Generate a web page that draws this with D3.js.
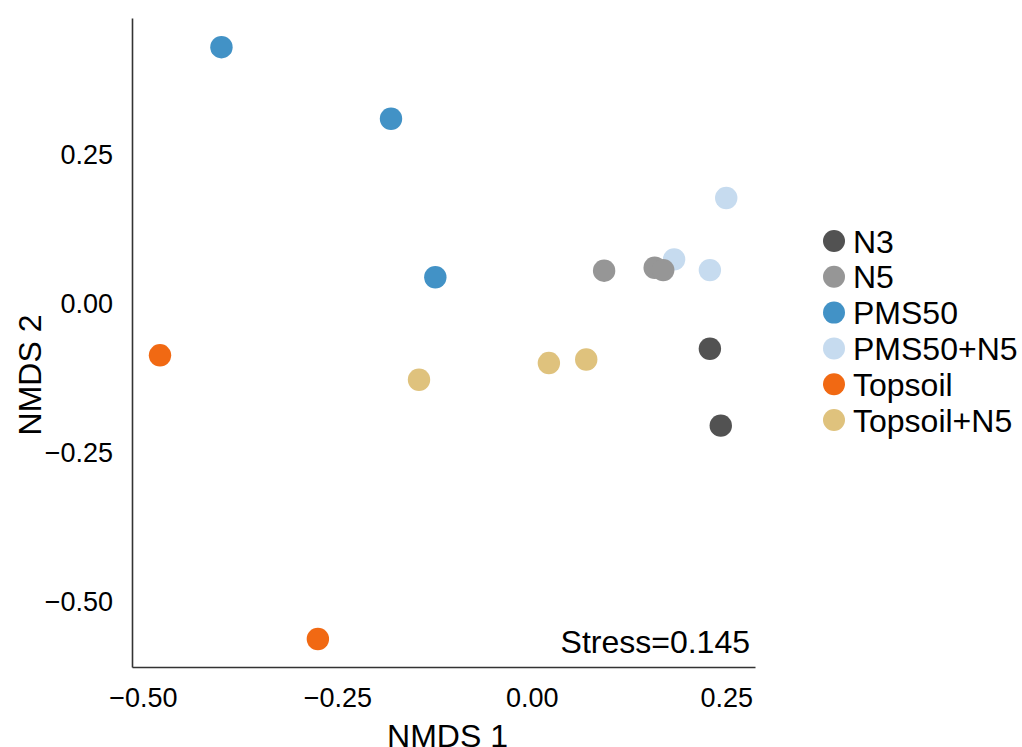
<!DOCTYPE html>
<html>
<head>
<meta charset="utf-8">
<script src="https://cdn.jsdelivr.net/npm/d3@7"></script>
<style>
  body { margin: 0; background: white; }
  svg text { font-family: "Liberation Sans", Arial, sans-serif; fill: black; }
</style>
</head>
<body>
<div id="visualisationDiv" style="width:1022px;height:747px;"></div>
<script>
// groups in drawing order
var groups = ["N3", "PMS50", "Topsoil", "Topsoil+N5", "PMS50+N5", "N5"];
var legendOrder = ["N3", "N5", "PMS50", "PMS50+N5", "Topsoil", "Topsoil+N5"];
var groupColours = {
  "N3": "#525252",
  "N5": "#969696",
  "PMS50": "#4292c6",
  "PMS50+N5": "#c6dbef",
  "Topsoil": "#f16913",
  "Topsoil+N5": "#dfc27d"
};

// NMDS scores
var nmds1 = {
  "N3": [0.229, 0.243],
  "PMS50": [-0.399, -0.181, -0.124],
  "Topsoil": [-0.478, -0.275],
  "Topsoil+N5": [-0.145, 0.022, 0.070],
  "PMS50+N5": [0.250, 0.183, 0.229],
  "N5": [0.093, 0.158, 0.169]
};
var nmds2 = {
  "N3": [-0.076, -0.205],
  "PMS50": [0.430, 0.310, 0.044],
  "Topsoil": [-0.087, -0.563],
  "Topsoil+N5": [-0.128, -0.100, -0.094],
  "PMS50+N5": [0.177, 0.074, 0.056],
  "N5": [0.055, 0.060, 0.056]
};

var tickValues = [-0.50, -0.25, 0.00, 0.25];
var xDomain = [-0.514, 0.287];
var yDomain = [-0.61, 0.479];
var stressLabel = "Stress=0.145";

function makeVisualisation() {
  var parentDiv = document.getElementById("visualisationDiv");
  var width = parentDiv.offsetWidth;
  var height = parentDiv.offsetHeight;

  var svg = d3.select(parentDiv).append("svg")
    .attr("width", width)
    .attr("height", height);

  svg.append("rect").attr("width", width).attr("height", height).attr("fill", "white");

  var left = 132, right = 755, top = 18, bottom = 667;

  var x = d3.scaleLinear().domain(xDomain).range([left, right]);
  var y = d3.scaleLinear().domain(yDomain).range([bottom, top]);

  var points = [];
  groups.forEach(function(g) {
    nmds1[g].forEach(function(v, i) {
      points.push({ group: g, x: v, y: nmds2[g][i] });
    });
  });

  // axes
  var xAxis = svg.append("g")
    .attr("transform", "translate(0," + bottom + ")")
    .call(d3.axisBottom(x).tickValues(tickValues).tickFormat(d3.format(".2f")).tickSize(0).tickPadding(21));
  var yAxis = svg.append("g")
    .attr("transform", "translate(" + left + ",0)")
    .call(d3.axisLeft(y).tickValues(tickValues).tickFormat(d3.format(".2f")).tickSize(0).tickPadding(19));

  [xAxis, yAxis].forEach(function(a) {
    a.select(".domain").attr("stroke", "#333333").attr("stroke-width", 1.6);
    a.selectAll("text")
      .attr("font-family", "Liberation Sans, Arial, sans-serif")
      .attr("font-size", 27)
      .attr("fill", "black");
  });

  // points
  svg.append("g")
    .selectAll("circle")
    .data(points)
    .enter()
    .append("circle")
      .attr("cx", function(d) { return x(d.x); })
      .attr("cy", function(d) { return y(d.y); })
      .attr("r", 11.2)
      .attr("fill", function(d) { return groupColours[d.group]; });

  // axis titles
  svg.append("text")
    .attr("x", (left + right) / 2 + 4)
    .attr("y", 747)
    .attr("text-anchor", "middle")
    .attr("font-size", 32)
    .text("NMDS 1");

  svg.append("text")
    .attr("transform", "translate(41,375) rotate(-90)")
    .attr("text-anchor", "middle")
    .attr("font-size", 32)
    .text("NMDS 2");

  svg.append("text")
    .attr("x", 750)
    .attr("y", 653)
    .attr("text-anchor", "end")
    .attr("font-size", 32)
    .text(stressLabel);

  // legend
  var legend = svg.append("g")
    .selectAll("g")
    .data(legendOrder)
    .enter()
    .append("g")
      .attr("transform", function(d, i) { return "translate(834," + (241 + i * 35.8) + ")"; });

  legend.append("circle")
    .attr("r", 11)
    .attr("fill", function(d) { return groupColours[d]; });

  legend.append("text")
    .attr("x", 19)
    .attr("y", 0)
    .attr("dy", "0.36em")
    .attr("font-size", 32)
    .text(function(d) { return d; });
}

makeVisualisation();
</script>
</body>
</html>
